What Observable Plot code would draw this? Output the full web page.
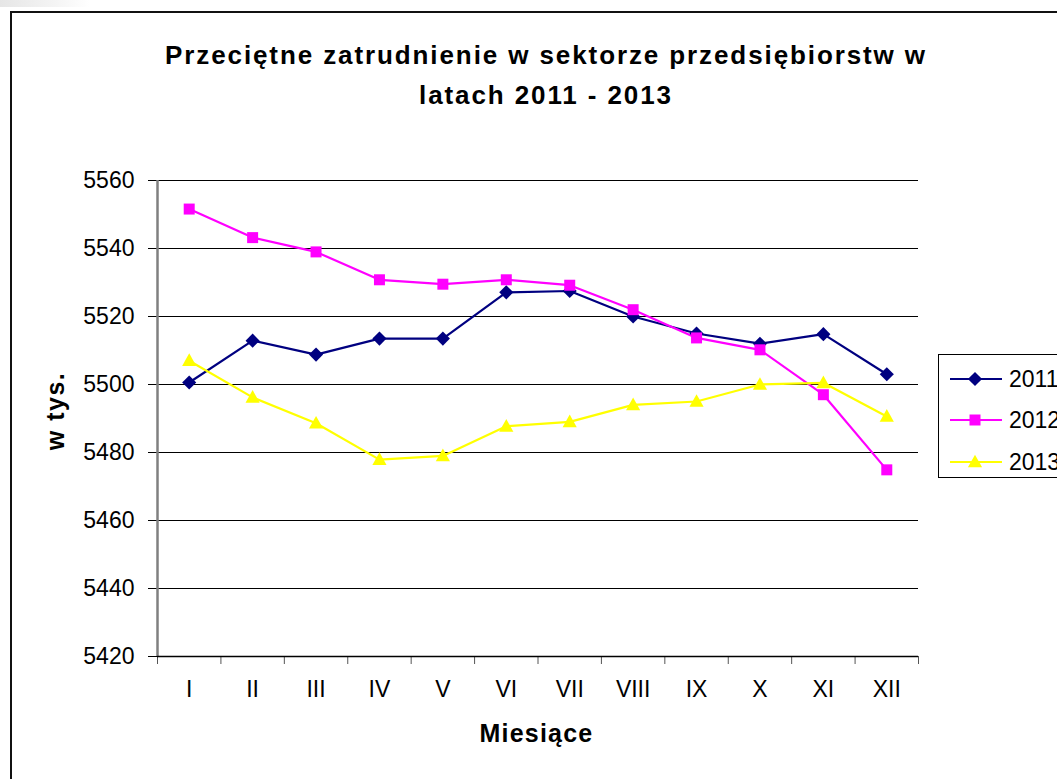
<!DOCTYPE html>
<html>
<head>
<meta charset="utf-8">
<script src="https://cdn.jsdelivr.net/npm/d3@7"></script>
<script src="https://cdn.jsdelivr.net/npm/@observablehq/plot@0.6"></script>
<style>
  body { margin: 0; background: #fff; font-family: "Liberation Sans", Arial, sans-serif; }
  #wrap { position: relative; width: 1057px; height: 779px; overflow: hidden; background: #fff; }
  #frame { position: absolute; left: 10px; top: 11px; width: 1100px; height: 800px; border: 2px solid #111; box-sizing: border-box; }
  #shadow { position: absolute; left: 0; top: 0; width: 90px; height: 7px; background: linear-gradient(to right, #e6e6e6, #f4f4f4 60%, #fff); }
  #chart { position: absolute; left: 0; top: 0; }
  #title { position: absolute; left: 0; top: 35px; width: 1092px; text-align: center; font-weight: bold; font-size: 26px; letter-spacing: 1.9px; line-height: 40px; color: #000; }
  #xlabel { position: absolute; left: 0; top: 719px; width: 1073px; text-align: center; font-weight: bold; font-size: 25px; letter-spacing: 1.2px; }
  #ylabel { position: absolute; left: 55px; top: 411px; transform: translate(-50%, -50%) rotate(-90deg); font-weight: bold; font-size: 25px; letter-spacing: 1.5px; white-space: nowrap; }
  #legend { position: absolute; left: 938px; top: 354px; width: 140px; height: 124px; border: 1px solid #000; box-sizing: border-box; background: #fff; }
  .lrow { position: absolute; left: 10px; height: 30px; display: flex; align-items: center; font-size: 23px; }
  .lrow svg { margin-right: 6px; }
</style>
</head>
<body>
<div id="wrap">
  <div id="shadow"></div>
  <div id="frame"></div>
  <div id="chart"></div>
  <div id="title">Przeciętne zatrudnienie w sektorze przedsiębiorstw w<br>latach 2011 - 2013</div>
  <div id="ylabel">w tys.</div>
  <div id="xlabel">Miesiące</div>
  <div id="legend"></div>
</div>
<script>
const months = ["I","II","III","IV","V","VI","VII","VIII","IX","X","XI","XII"];
const years = ["2011","2012","2013"];
const s2011 = [5500.6, 5512.9, 5508.8, 5513.5, 5513.5, 5527.1, 5527.5, 5520.0, 5515.0, 5512.0, 5514.8, 5503.0];
const s2012 = [5551.6, 5543.2, 5539.0, 5530.8, 5529.5, 5530.8, 5529.2, 5522.0, 5513.7, 5510.2, 5497.0, 5474.9];
const s2013 = [5507.0, 5496.2, 5488.6, 5477.9, 5479.0, 5487.7, 5489.0, 5494.0, 5495.0, 5500.0, 5500.5, 5490.6];
const yTicks = [5420, 5440, 5460, 5480, 5500, 5520, 5540, 5560];
const colors = {"2011": "#000080", "2012": "#FF00FF", "2013": "#FFFF00"};

const series = [s2011, s2012, s2013];
const data = [];
years.forEach((yr, k) => series[k].forEach((v, i) => data.push({year: yr, m: i + 1, month: months[i], value: v})));

const diamond = {
  draw(context, size) {
    const h = Math.sqrt(size / 2);
    context.moveTo(0, -h); context.lineTo(h, 0); context.lineTo(0, h); context.lineTo(-h, 0); context.closePath();
  }
};
const square = {
  draw(context, size) {
    const h = Math.sqrt(size) / 2;
    context.rect(-h, -h, 2 * h, 2 * h);
  }
};
const triangle = {
  draw(context, size) {
    const w = Math.sqrt(size * 2);
    const hh = w * 0.9;
    context.moveTo(0, -hh / 2 - 1); context.lineTo(w / 2, hh / 2 - 1); context.lineTo(-w / 2, hh / 2 - 1); context.closePath();
  }
};
const symbols = {"2011": diamond, "2012": square, "2013": triangle};
const sizes = {"2011": 100, "2012": 121, "2013": 100};

const xEdges = d3.range(0.5, 13, 1);

const plot = Plot.plot({
  width: 1057,
  height: 779,
  marginLeft: 157,
  marginRight: 139,
  marginTop: 180,
  marginBottom: 123,
  style: {fontFamily: "'Liberation Sans', Arial, sans-serif", fontSize: "23px", color: "#000", background: "transparent"},
  x: {type: "linear", domain: [0.5, 12.5]},
  y: {domain: [5420, 5560]},
  marks: [
    Plot.ruleY(yTicks, {stroke: "#000", strokeWidth: 1}),
    Plot.axisY({ticks: yTicks, tickSize: 9, tickPadding: 14, label: null, tickFormat: d => String(d), stroke: "#000", fontSize: 23}),
    Plot.ruleX([0.5], {stroke: "#808080", strokeWidth: 2.5}),
    Plot.axisX({ticks: xEdges, tickSize: 8, tickFormat: () => "", label: null, stroke: "#555"}),
    Plot.ruleY([5420], {stroke: "#000", strokeWidth: 1.5}),
    Plot.axisX({ticks: d3.range(1, 13), tickSize: 0, tickPadding: 24, label: null, tickFormat: d => months[d - 1], fontSize: 23}),
    ...years.map(yr => Plot.line(data.filter(d => d.year === yr), {x: "m", y: "value", stroke: colors[yr], strokeWidth: 2.2})),
    ...years.map(yr => Plot.dot(data.filter(d => d.year === yr), {x: "m", y: "value", fill: colors[yr], stroke: "none", symbol: symbols[yr], r: Math.sqrt(sizes[yr] / Math.PI)}))
  ]
});
document.getElementById("chart").appendChild(plot);

// legend
const legend = document.getElementById("legend");
const rowsTop = [9, 50, 92];
years.forEach((yr, k) => {
  const row = document.createElement("div");
  row.className = "lrow";
  row.style.top = rowsTop[k] + "px";
  const sym = d3.symbol(symbols[yr], sizes[yr])();
  row.innerHTML = `<svg width="54" height="30"><line x1="1" x2="53" y1="15" y2="15" stroke="${colors[yr]}" stroke-width="2.2"/><path d="${sym}" transform="translate(26,15)" fill="${colors[yr]}"/></svg><span>${yr}</span>`;
  legend.appendChild(row);
});
</script>
</body>
</html>
